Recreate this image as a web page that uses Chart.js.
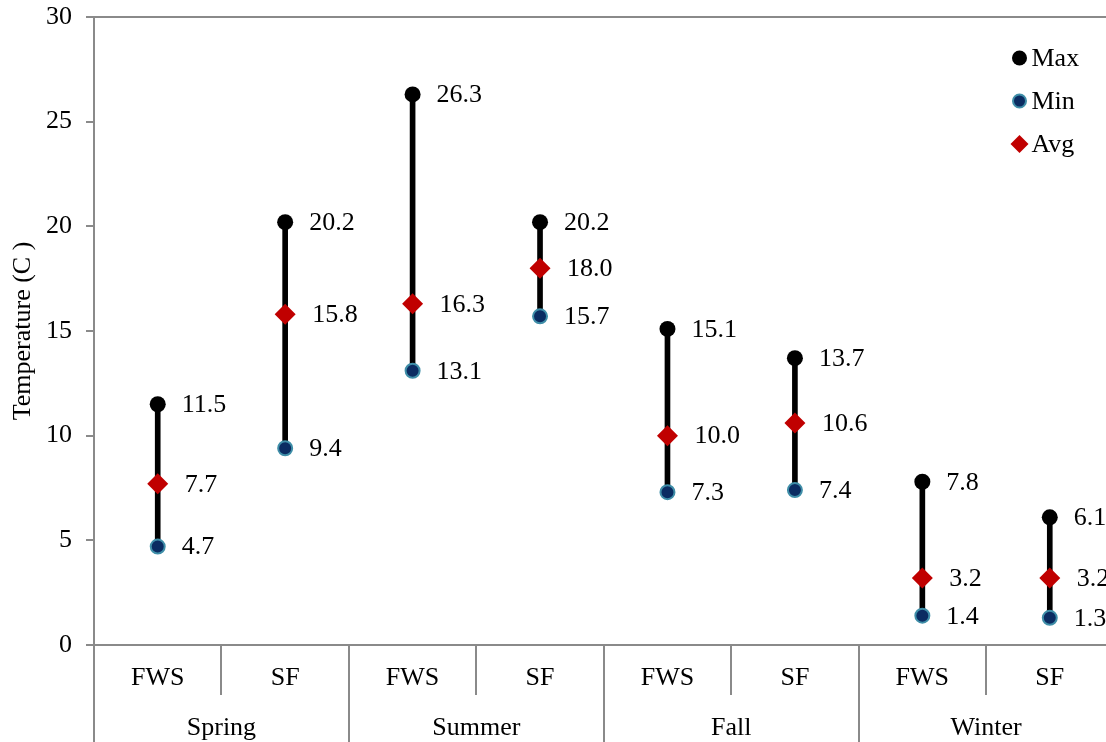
<!DOCTYPE html>
<html>
<head>
<meta charset="utf-8">
<script src="https://cdn.jsdelivr.net/npm/chart.js@4/dist/chart.umd.min.js"></script>
<style>
  html, body { margin: 0; padding: 0; background: #ffffff; overflow: hidden; }
  #wrap { position: relative; width: 1124px; height: 742px; }
</style>
</head>
<body>
<div id="wrap"><canvas id="chart"></canvas></div>
<script>
// Seasonal temperature ranges per site
const sites = ['FWS', 'SF', 'FWS', 'SF', 'FWS', 'SF', 'FWS', 'SF'];
const seasons = ['Spring', 'Summer', 'Fall', 'Winter'];
const maxTemp = [11.5, 20.2, 26.3, 20.2, 15.1, 13.7, 7.8, 6.1];
const minTemp = [4.7, 9.4, 13.1, 15.7, 7.3, 7.4, 1.4, 1.3];
const avgTemp = [7.7, 15.8, 16.3, 18.0, 10.0, 10.6, 3.2, 3.2];
const yTicks = [0, 5, 10, 15, 20, 25, 30];

const FONT = 'Liberation Serif, Times New Roman, serif';
const FONT_SIZE = 26;
const AXIS_GRAY = '#8a8a8a';

// Keep scale label overhang from pushing the plot area inwards
function noOverhang(scale) {
  scale.paddingTop = 0;
  scale.paddingBottom = 0;
  scale.paddingLeft = 0;
  scale.paddingRight = 0;
}

// Value labels beside each marker
const valueLabels = {
  id: 'valueLabels',
  afterDatasetsDraw(chart) {
    const ctx = chart.ctx;
    ctx.save();
    ctx.font = FONT_SIZE + 'px ' + FONT;
    ctx.fillStyle = '#000';
    ctx.textAlign = 'left';
    ctx.textBaseline = 'middle';
    chart.data.datasets.forEach((ds, di) => {
      if (!ds.labelOffset) return;
      const meta = chart.getDatasetMeta(di);
      meta.data.forEach((pt, i) => {
        ctx.fillText(ds.data[i].toFixed(1), pt.x + ds.labelOffset, pt.y + 1);
      });
    });
    ctx.restore();
  }
};

// Category dividers for the two-level axis
const axisDividers = {
  id: 'axisDividers',
  afterDraw(chart) {
    const ctx = chart.ctx;
    const xs = chart.scales.x;
    const area = chart.chartArea;
    const step = xs.getPixelForValue(1) - xs.getPixelForValue(0);
    ctx.save();
    ctx.strokeStyle = AXIS_GRAY;
    ctx.lineWidth = 2;
    for (let i = 0; i <= sites.length; i++) {
      const px = Math.round(xs.getPixelForValue(i) - step / 2);
      const bottom = (i % 2 === 0) ? chart.height : area.bottom + 50;
      ctx.beginPath();
      ctx.moveTo(px, area.bottom);
      ctx.lineTo(px, bottom);
      ctx.stroke();
    }
    ctx.restore();
  }
};

// Legend inside the plot area, top right
const innerLegend = {
  id: 'innerLegend',
  afterDraw(chart) {
    const ctx = chart.ctx;
    const area = chart.chartArea;
    const mx = area.right - 94;
    const items = chart.data.datasets.filter(d => d.labelOffset);
    ctx.save();
    ctx.font = FONT_SIZE + 'px ' + FONT;
    ctx.textAlign = 'left';
    ctx.textBaseline = 'middle';
    items.forEach((ds, k) => {
      const y = area.top + 41 + k * 43;
      ctx.fillStyle = ds.pointBackgroundColor;
      ctx.strokeStyle = ds.pointBorderColor;
      ctx.lineWidth = ds.pointBorderWidth;
      ctx.beginPath();
      if (ds.pointStyle === 'rectRot') {
        const r = ds.pointRadius - 1.5;
        ctx.moveTo(mx, y - r);
        ctx.lineTo(mx + r, y);
        ctx.lineTo(mx, y + r);
        ctx.lineTo(mx - r, y);
        ctx.closePath();
      } else {
        ctx.arc(mx, y, ds.pointRadius - 0.5, 0, Math.PI * 2);
      }
      ctx.fill();
      if (ds.pointBorderWidth) ctx.stroke();
      ctx.fillStyle = '#000';
      ctx.fillText(ds.label, mx + 12, y + 1);
    });
    ctx.restore();
  }
};

new Chart(document.getElementById('chart'), {
  type: 'bar',
  data: {
    labels: sites,
    datasets: [
      {
        type: 'bar',
        label: 'Range',
        data: minTemp.map((v, i) => [v, maxTemp[i]]),
        backgroundColor: '#000',
        barThickness: 5,
        order: 4
      },
      {
        type: 'line',
        label: 'Max',
        data: maxTemp,
        showLine: false,
        pointStyle: 'circle',
        pointRadius: 8,
        pointBackgroundColor: '#000',
        pointBorderColor: '#000',
        pointBorderWidth: 0,
        labelOffset: 24,
        order: 1
      },
      {
        type: 'line',
        label: 'Min',
        data: minTemp,
        showLine: false,
        pointStyle: 'circle',
        pointRadius: 7,
        pointBackgroundColor: '#0b2c62',
        pointBorderColor: '#3f8ea8',
        pointBorderWidth: 2,
        labelOffset: 24,
        order: 2
      },
      {
        type: 'line',
        label: 'Avg',
        data: avgTemp,
        showLine: false,
        pointStyle: 'rectRot',
        pointRadius: 10.5,
        pointBackgroundColor: '#c00000',
        pointBorderColor: '#c00000',
        pointBorderWidth: 0,
        labelOffset: 27,
        order: 0
      }
    ]
  },
  options: {
    responsive: true,
    maintainAspectRatio: false,
    animation: false,
    layout: { padding: { top: 17, right: 4, bottom: 0, left: 0 } },
    plugins: {
      legend: { display: false },
      tooltip: { enabled: false }
    },
    scales: {
      x: {
        type: 'category',
        offset: true,
        afterFit(scale) { scale.height = 45; noOverhang(scale); },
        grid: { display: false, drawTicks: false },
        border: { display: true, color: AXIS_GRAY, width: 2 },
        ticks: {
          color: '#000',
          font: { family: FONT, size: FONT_SIZE },
          padding: 18,
          maxRotation: 0,
          autoSkip: false
        }
      },
      x2: {
        type: 'category',
        position: 'bottom',
        labels: seasons,
        offset: true,
        afterFit(scale) { scale.height = 52; noOverhang(scale); },
        grid: { display: false, drawTicks: false },
        border: { display: false },
        ticks: {
          color: '#000',
          font: { family: FONT, size: FONT_SIZE },
          padding: 23,
          maxRotation: 0,
          autoSkip: false
        }
      },
      y: {
        min: 0,
        max: 30,
        afterBuildTicks(scale) { scale.ticks = yTicks.map(v => ({ value: v })); },
        afterFit(scale) { scale.width = 94; noOverhang(scale); },
        grid: {
          drawOnChartArea: true,
          color: (c) => (c.tick && c.tick.value === 30 ? AXIS_GRAY : 'rgba(0,0,0,0)'),
          lineWidth: 2,
          tickColor: AXIS_GRAY,
          tickLength: 8
        },
        border: { display: true, color: AXIS_GRAY, width: 2 },
        ticks: {
          color: '#000',
          font: { family: FONT, size: FONT_SIZE },
          padding: 14
        },
        title: {
          display: true,
          text: 'Temperature (C )',
          color: '#000',
          font: { family: FONT, size: FONT_SIZE },
          padding: { top: 8, bottom: 10 }
        }
      }
    }
  },
  plugins: [valueLabels, axisDividers, innerLegend]
});
</script>
</body>
</html>
